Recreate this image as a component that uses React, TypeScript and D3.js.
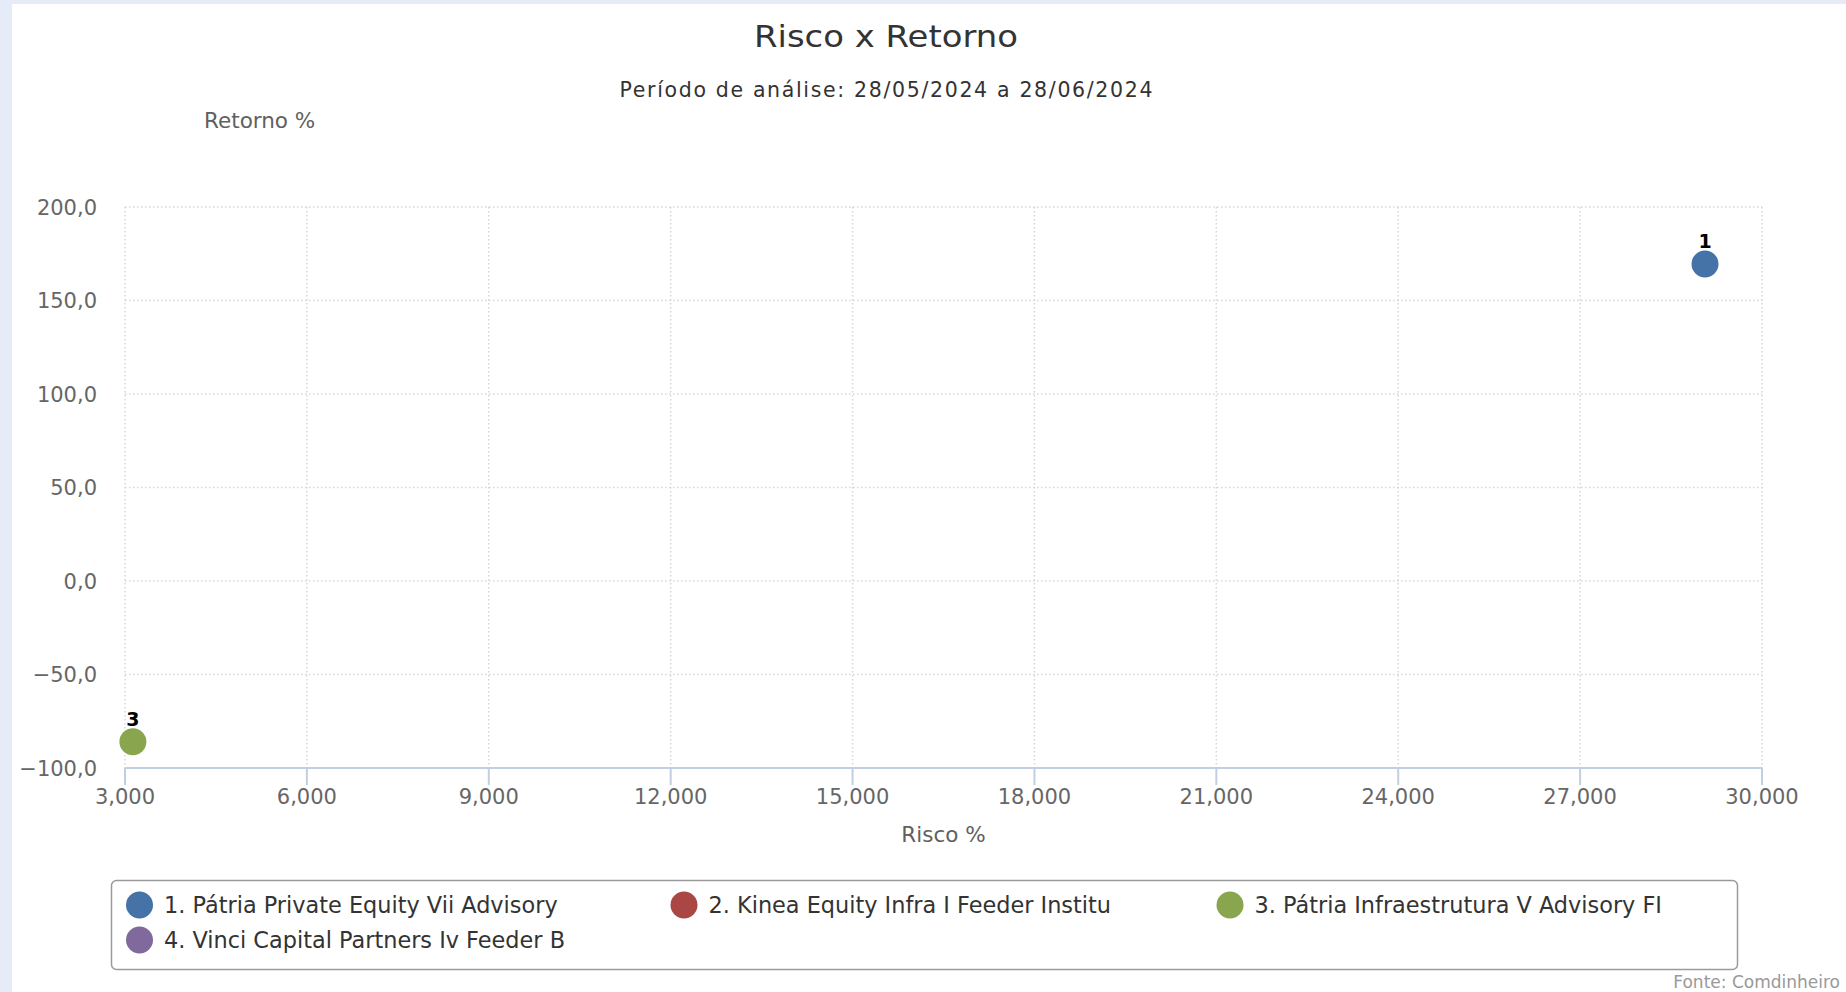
import React from 'react';
import * as d3 from 'd3';

const seriesNames = [
  '1. Pátria Private Equity Vii Advisory',
  '2. Kinea Equity Infra I Feeder Institu',
  '3. Pátria Infraestrutura V Advisory FI',
  '4. Vinci Capital Partners Iv Feeder B',
];
const pointLabels = ['1', '2', '3', '4'];
const riscoValues: (number | null)[] = [29060, null, 3130, null];
const retornoValues: (number | null)[] = [169.5, null, -86, null];
const seriesColors = ['#4572A7', '#AA4643', '#89A54E', '#80699B'];
const xTickValues = [3000, 6000, 9000, 12000, 15000, 18000, 21000, 24000, 27000, 30000];
const yTickValues = [-100, -50, 0, 50, 100, 150, 200];

const W = 1846;
const H = 992;
const FONT = '"DejaVu Sans", Verdana, sans-serif';

export default function App() {
  const x = d3.scaleLinear().domain([3000, 30000]).range([125, 1762]);
  const y = d3.scaleLinear().domain([-100, 200]).range([768, 207]);
  const fmtX = d3.format(',');
  const fmtY = (v: number) => (v < 0 ? '\u2212' : '') + Math.abs(v).toFixed(1).replace('.', ',');

  const legendPos = [
    { cx: 139.5, ty: 905 },
    { cx: 684, ty: 905 },
    { cx: 1230, ty: 905 },
    { cx: 139.5, ty: 940 },
  ];

  const points = seriesNames
    .map((n, i) => ({ i, rx: riscoValues[i], ry: retornoValues[i] }))
    .filter((p) => p.rx !== null && p.ry !== null);

  return (
    <svg
      width={W}
      height={H}
      style={{ position: 'absolute', left: 0, top: 0, fontFamily: FONT }}
    >
      <rect x={0} y={0} width={W} height={H} fill="#e5ebf7" />
      <rect x={12} y={4} width={W - 12} height={H - 4} fill="#ffffff" />

      {/* Title */}
      <text x={886} y={47} textAnchor="middle" fontSize={31} fill="#333333" textLength={264} lengthAdjust="spacingAndGlyphs">
        Risco x Retorno
      </text>
      <text x={886} y={97} textAnchor="middle" fontSize={20.5} fill="#333333" textLength={533} lengthAdjust="spacing">
        Período de análise: 28/05/2024 a 28/06/2024
      </text>

      {/* Y axis title */}
      <text x={204} y={128} fontSize={21.5} fill="#606060">Retorno %</text>

      {/* gridlines */}
      {yTickValues.filter((v) => v !== -100).map((v) => (
        <line key={'gy' + v} x1={125} x2={1762} y1={y(v)} y2={y(v)} stroke="#d6d6d6" strokeWidth={1.5} strokeDasharray="1.5 2.5" />
      ))}
      {xTickValues.map((v) => (
        <line key={'gx' + v} x1={x(v)} x2={x(v)} y1={207} y2={768} stroke="#d6d6d6" strokeWidth={1.5} strokeDasharray="1.5 2.5" />
      ))}

      {/* x axis line and ticks */}
      <line x1={125} x2={1762} y1={768} y2={768} stroke="#C0D0E0" strokeWidth={2} />
      {xTickValues.map((v) => (
        <line key={'tx' + v} x1={x(v)} x2={x(v)} y1={768} y2={785} stroke="#C0D0E0" strokeWidth={2} />
      ))}

      {/* tick labels */}
      {yTickValues.map((v) => (
        <text key={'ly' + v} x={97} y={y(v) + 7.5} textAnchor="end" fontSize={21} fill="#666666">
          {fmtY(v)}
        </text>
      ))}
      {xTickValues.map((v) => (
        <text key={'lx' + v} x={x(v)} y={804} textAnchor="middle" fontSize={21} fill="#666666">
          {fmtX(v)}
        </text>
      ))}

      {/* X axis title */}
      <text x={943.5} y={842} textAnchor="middle" fontSize={21.5} fill="#606060">Risco %</text>

      {/* points */}
      {points.map((p) => (
        <g key={'p' + p.i}>
          <circle cx={x(p.rx as number)} cy={y(p.ry as number)} r={13.5} fill={seriesColors[p.i]} />
          <text x={x(p.rx as number)} y={y(p.ry as number) - 16} textAnchor="middle" fontSize={19} fontWeight="bold" fill="#000000">
            {pointLabels[p.i]}
          </text>
        </g>
      ))}

      {/* legend */}
      <rect x={111.5} y={880.5} width={1626} height={89} rx={5} ry={5} fill="#ffffff" stroke="#9a9a9a" strokeWidth={1.5} />
      {seriesNames.map((n, i) => (
        <g key={'lg' + i}>
          <circle cx={legendPos[i].cx} cy={legendPos[i].ty} r={13.5} fill={seriesColors[i]} />
          <text x={legendPos[i].cx + 24.5} y={legendPos[i].ty + 8} fontSize={22.4} fill="#333333">
            {n}
          </text>
        </g>
      ))}

      {/* credits */}
      <text x={1840} y={988} textAnchor="end" fontSize={17} fill="#999999">Fonte: Comdinheiro</text>
    </svg>
  );
}
